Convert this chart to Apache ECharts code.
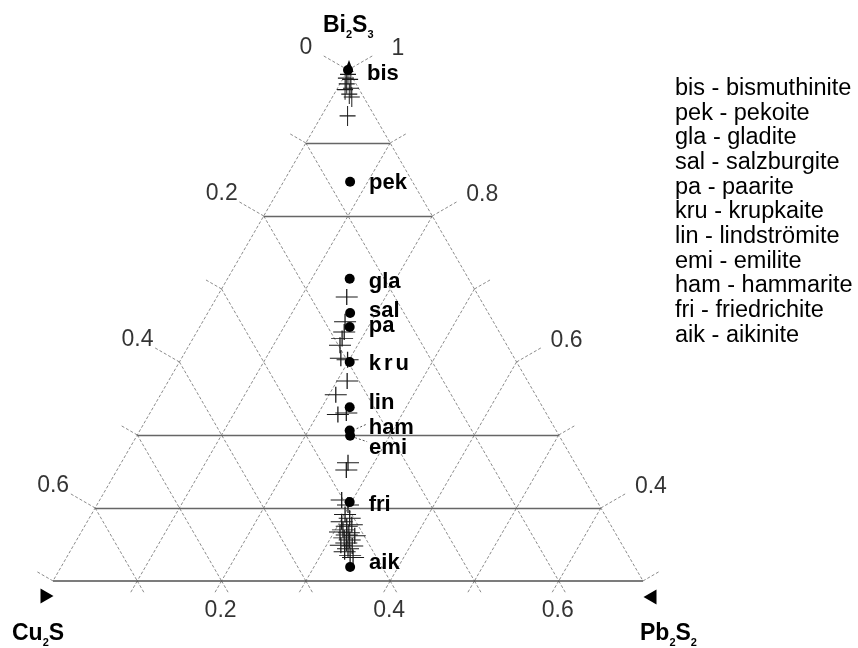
<!DOCTYPE html>
<html><head><meta charset="utf-8">
<script src="https://cdn.jsdelivr.net/npm/echarts@6/dist/echarts.min.js"></script>
<style>html,body{margin:0;padding:0;background:#fff}#c{width:858px;height:648px}</style>
</head><body><div id="c"></div>
<script>
// ---------- DATA (mole fractions: Cu2S, Pb2S2, Bi2S3) ----------
const mineralCodes  = ['bis','pek','gla','sal','pa','kru','lin','ham','emi','fri','aik'];
const mineralCu2S   = [0.000,0.074,0.141,0.164,0.174,0.198,0.229,0.245,0.248,0.294,0.338];
const mineralPb2S2  = [0.000,0.079,0.145,0.169,0.178,0.202,0.233,0.249,0.253,0.298,0.343];
const mineralBi2S3  = [1.000,0.847,0.714,0.667,0.648,0.600,0.538,0.506,0.499,0.408,0.319];

// analyses [Cu2S, Pb2S2, Bi2S3]
const analysesBis = [[0.003,0.003,0.994],[0.008,0.003,0.989],[0.004,0.009,0.987],[0.011,0.008,0.981],
  [0.009,0.016,0.975],[0.017,0.010,0.973],[0.015,0.018,0.967],[0.014,0.023,0.963],[0.032,0.031,0.937]];
const analysesMid = [[0.157,0.154,0.689],[0.176,0.169,0.655],[0.184,0.175,0.641],[0.191,0.177,0.632],
  [0.198,0.179,0.623],[0.206,0.189,0.605],[0.199,0.198,0.603],[0.214,0.212,0.574],[0.237,0.208,0.555],
  [0.248,0.224,0.528],[0.237,0.233,0.530],[0.269,0.269,0.462],[0.276,0.272,0.452]];
const analysesAik = [[0.302,0.287,0.411],[0.298,0.298,0.404],[0.308,0.301,0.391],[0.305,0.309,0.386],
  [0.317,0.302,0.381],[0.307,0.316,0.377],[0.314,0.311,0.375],[0.321,0.309,0.370],[0.326,0.307,0.367],
  [0.316,0.318,0.366],[0.311,0.327,0.362],[0.325,0.316,0.359],[0.320,0.324,0.356],[0.326,0.322,0.352],
  [0.334,0.317,0.349],[0.321,0.331,0.348],[0.328,0.328,0.344],[0.334,0.326,0.340],[0.330,0.335,0.335],
  [0.328,0.340,0.332],[0.320,0.317,0.363]];

const legendCodes = ['bis','pek','gla','sal','pa','kru','lin','emi','ham','fri','aik'];
const legendNames = ['bismuthinite','pekoite','gladite','salzburgite','paarite','krupkaite','lindströmite','emilite','hammarite','friedrichite','aikinite'];

const gridSteps   = [0.1,0.2,0.3,0.4,0.5,0.6];
const edgeSteps   = [0,0.1,0.2,0.3,0.4,0.5,0.6,0.7];
const biLevels    = [0.4,0.5,0.8,0.9];          // horizontal Bi2S3 lines drawn
const cuTickVals  = [0,0.2,0.4,0.6];  const cuTickLabels = ['0','0.2','0.4','0.6'];
const biTickVals  = [1,0.8,0.6,0.4];  const biTickLabels = ['1','0.8','0.6','0.4'];
const pbTickVals  = [0.2,0.4,0.6];    const pbTickLabels = ['0.2','0.4','0.6'];
const BI_MIN = 0.3;

// ---------- helpers ----------
const SQ = Math.sqrt(3)/2;
function tern(cu,pb,bi){ const s=cu+pb+bi; return [(pb+bi/2)/s, (bi/s)*SQ]; }
const FONT = '"Liberation Sans", Arial, Helvetica, sans-serif';
const PX = 0.7/590;                   // data units per pixel (equal aspect)

const dashed=[], solid=[], bottom=[];
const span = 1-BI_MIN;
dashed.push({coords:[tern(0,0,1), tern(span,0,BI_MIN)]});
dashed.push({coords:[tern(0,0,1), tern(0,span,BI_MIN)]});
bottom.push({coords:[tern(span,0,BI_MIN), tern(0,span,BI_MIN)]});
gridSteps.forEach(v=>{
  dashed.push({coords:[tern(v,0,1-v), tern(v,span-v,BI_MIN)]});
  dashed.push({coords:[tern(0,v,1-v), tern(span-v,v,BI_MIN)]});
});
biLevels.forEach(v=>{ solid.push({coords:[tern(1-v,0,v), tern(0,1-v,v)]}); });
function isLab(arr,v){ return arr.some(a=>Math.abs(a-v)<1e-9); }
edgeSteps.forEach(c=>{
  const p=tern(c,0,1-c), L=(isLab(cuTickVals,c)?29:18)*PX;
  dashed.push({coords:[p,[p[0]-0.866*L,p[1]+0.5*L]]});
  const q=tern(0,c,1-c), L2=(isLab(biTickVals,1-c)?29:18)*PX;
  dashed.push({coords:[q,[q[0]+0.866*L2,q[1]+0.5*L2]]});
});
gridSteps.forEach(v=>{
  const p=tern(span-v,v,BI_MIN), L=15*PX;
  dashed.push({coords:[p,[p[0]-0.5*L,p[1]-0.866*L]]});
  dashed.push({coords:[p,[p[0]+0.5*L,p[1]-0.866*L]]});
});

const tickLabelData=[];
cuTickVals.forEach((v,i)=>tickLabelData.push({name:cuTickLabels[i], value:tern(v,0,1-v), label:{offset:[-42,-22]}}));
biTickVals.forEach((v,i)=>tickLabelData.push({name:biTickLabels[i], value:tern(0,1-v,v), label:{offset:[50,-21]}}));
pbTickVals.forEach((v,i)=>tickLabelData.push({name:pbTickLabels[i], value:tern(span-v,v,BI_MIN), label:{offset:[-1,30]}}));

// label layout (pixel nudges) for mineral names
const labelDy = {bis:4,pek:1,gla:3,sal:-2,pa:-1,kru:2,lin:-4,ham:-3,emi:12,fri:3,aik:-4};
const dotData = mineralCodes.map((c,i)=>{
  const item={name:c, value:tern(mineralCu2S[i],mineralPb2S2[i],mineralBi2S3[i]), label:{offset:[0,labelDy[c]]}};
  if(c==='kru') item.label.formatter='{k|k}{k|r}{u|u}';
  return item;
});

const cross='path://M0,10L20,10M10,0L10,20';
function crossSeries(arr,size){
  return {type:'scatter', data:arr.map(a=>tern(a[0],a[1],a[2])), symbol:cross, symbolSize:size,
    itemStyle:{color:'rgba(0,0,0,0)', borderColor:'#1a1a1a', borderWidth:1.1, opacity:1}, silent:true, z:3};
}

const chart = echarts.init(document.getElementById('c'), null, {renderer:'canvas'});
chart.setOption({
  animation:false,
  backgroundColor:'#fff',
  grid:{left:10.86, top:41.36, width:674.29, height:590},
  xAxis:{type:'value', min:0.1, max:0.9, show:false},
  yAxis:{type:'value', min:0.2, max:0.9, show:false},
  series:[
    {type:'lines', coordinateSystem:'cartesian2d', data:dashed, silent:true, z:1,
      lineStyle:{color:'#8c8c8c', width:1, type:[3,2], opacity:1}},
    {type:'lines', coordinateSystem:'cartesian2d', data:solid, silent:true, z:1,
      lineStyle:{color:'#666', width:1.3, type:'solid', opacity:1}},
    {type:'lines', coordinateSystem:'cartesian2d', data:bottom, silent:true, z:1,
      lineStyle:{color:'#505050', width:1.6, type:'solid', opacity:1}},
    crossSeries(analysesBis,[16,20]),
    crossSeries(analysesMid,[22,16]),
    crossSeries(analysesAik,[22,16]),
    {type:'scatter', data:dotData, symbol:'circle', symbolSize:10, z:5, silent:true,
      itemStyle:{color:'#000', opacity:1},
      label:{show:true, position:'right', distance:14, formatter:'{b}', color:'#000',
        fontFamily:FONT, fontSize:22, fontWeight:'bold',
        rich:{k:{fontFamily:FONT,fontSize:22,fontWeight:'bold',color:'#000',padding:[0,3,0,0]},
              u:{fontFamily:FONT,fontSize:22,fontWeight:'bold',color:'#000'}}}},
    {type:'scatter', data:tickLabelData, symbolSize:0, silent:true, z:6,
      label:{show:true, position:'inside', formatter:'{b}', color:'#000', fontFamily:FONT, fontSize:23}},
    {type:'scatter', silent:true, z:6, itemStyle:{color:'#000', opacity:1},
      data:[
        {value:tern(0,0,1), symbol:'triangle', symbolSize:[9,12], symbolOffset:[1,-4]},
        {value:tern(span,0,BI_MIN), symbol:'path://M0,0L13,7.5L0,15Z', symbolSize:[13,15], symbolOffset:[-6,15]},
        {value:tern(0,span,BI_MIN), symbol:'path://M13,0L0,7.5L13,15Z', symbolSize:[13,15], symbolOffset:[7,16]}
      ]}
  ]
});

// titles and legend text
const sub = {fontFamily:FONT, fontSize:11, fontWeight:'bold', fill:'#000', verticalAlign:'bottom', lineHeight:28};
const big = {fontFamily:FONT, fontSize:23, fontWeight:'bold', fill:'#000', lineHeight:28};
function title(txt,x,y){
  return {type:'text', x:x, y:y, z:10, style:{text:txt, rich:{b:big, s:sub}, verticalAlign:'top', align:'left'}};
}
const legendText = legendCodes.map((c,i)=>c+' - '+legendNames[i]).join('\n');
const ham = chart.convertToPixel({gridIndex:0}, dotData[7].value);
const emi = chart.convertToPixel({gridIndex:0}, dotData[8].value);
chart.setOption({graphic:[
  title('{b|Bi}{s|2}{b|S}{s|3}', 323, 12),
  title('{b|Cu}{s|2}{b|S}', 12, 620),
  title('{b|Pb}{s|2}{b|S}{s|2}', 640, 620),
  {type:'text', x:675, y:76, z:10, style:{text:legendText, fontFamily:FONT, fontSize:23.5, lineHeight:24.7, fill:'#000', verticalAlign:'top'}},
  {type:'line', z:10, shape:{x1:ham[0]+16,y1:ham[1]-6,x2:ham[0]+5,y2:ham[1]-1}, style:{stroke:'#555', lineWidth:1, lineDash:[2,2]}},
  {type:'line', z:10, shape:{x1:emi[0]+5,y1:emi[1]+2,x2:emi[0]+17,y2:emi[1]+6}, style:{stroke:'#555', lineWidth:1, lineDash:[2,2]}}
]});
</script></body></html>
